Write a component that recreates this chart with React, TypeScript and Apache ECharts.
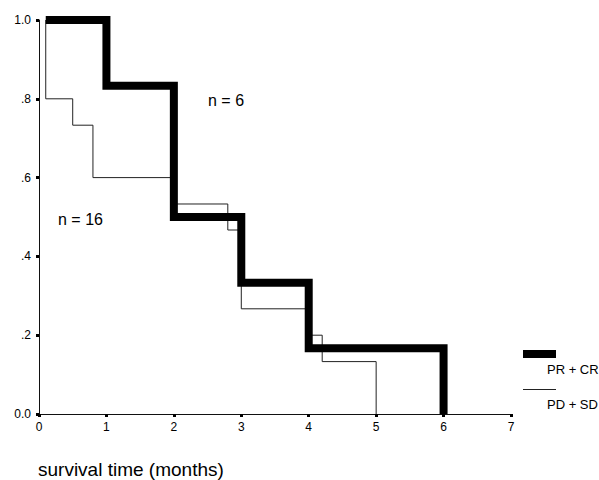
import React, { useEffect, useRef } from "react";
import * as echarts from "echarts";

// PR + CR group (n = 6): time of each step, survival after the step
const prcrTimes = [0.1, 1.0, 2.0, 3.0, 4.0, 6.0];
const prcrSurvival = [1.0, 0.833, 0.5, 0.333, 0.167, 0.0];

// PD + SD group (n = 16)
const pdsdTimes = [0.1, 0.1, 0.5, 0.8, 2.0, 2.8, 3.0, 4.0, 4.2, 5.0];
const pdsdSurvival = [1.0, 0.8, 0.733, 0.6, 0.533, 0.467, 0.267, 0.2, 0.133, 0.0];

const xTicks = [0, 1, 2, 3, 4, 5, 6, 7];
const yTickLabels: Record<string, string> = {
  "0": "0.0",
  "0.2": ".2",
  "0.4": ".4",
  "0.6": ".6",
  "0.8": ".8",
  "1": "1.0",
};

const seriesNames = ["PR + CR", "PD + SD"];
const groupLabels = ["n = 6", "n = 16"];
const xTitle = "survival time (months)";

const FONT = "'Liberation Sans', Arial, sans-serif";

export default function App() {
  const ref = useRef<HTMLDivElement>(null);

  useEffect(() => {
    if (!ref.current) return;
    const chart = echarts.init(ref.current, undefined, { renderer: "svg" });

    const prcr = prcrTimes.map((t, i) => [t, prcrSurvival[i]]);
    const pdsd = pdsdTimes.map((t, i) => [t, pdsdSurvival[i]]);

    chart.setOption({
      animation: false,
      backgroundColor: "#ffffff",
      grid: { left: 39, right: 88, top: 20, bottom: 66, containLabel: false },
      xAxis: {
        type: "value",
        min: xTicks[0],
        max: xTicks[xTicks.length - 1],
        interval: 1,
        splitLine: { show: false },
        axisLine: { show: true, lineStyle: { color: "#111", width: 1 } },
        axisTick: { show: true, length: 3, lineStyle: { color: "#000", width: 3 } },
        axisLabel: { color: "#000", fontSize: 12, fontFamily: FONT, margin: 7 },
      },
      yAxis: {
        type: "value",
        min: 0,
        max: 1,
        interval: 0.2,
        splitLine: { show: false },
        axisLine: { show: true, lineStyle: { color: "#111", width: 1 } },
        axisTick: { show: true, length: 3, lineStyle: { color: "#000", width: 3 } },
        axisLabel: {
          color: "#000",
          fontSize: 12,
          fontFamily: FONT,
          margin: 8,
          formatter: (v: number) => yTickLabels[String(Math.round(v * 10) / 10)] ?? String(v),
        },
      },
      series: [
        {
          name: seriesNames[0],
          type: "line",
          step: "end",
          data: prcr,
          showSymbol: false,
          symbol: "none",
          lineStyle: { color: "#000", width: 8, join: "miter", cap: "butt" },
          z: 3,
        },
        {
          name: seriesNames[1],
          type: "line",
          step: "end",
          data: pdsd,
          showSymbol: false,
          symbol: "none",
          lineStyle: { color: "#222", width: 1, join: "miter", cap: "butt" },
          z: 2,
        },
      ],
      graphic: [
        {
          type: "text",
          left: 208,
          top: 92,
          style: { text: groupLabels[0], fill: "#000", font: `16px ${FONT}` },
        },
        {
          type: "text",
          left: 58,
          top: 211,
          style: { text: groupLabels[1], fill: "#000", font: `16px ${FONT}` },
        },
        {
          type: "rect",
          shape: { x: 523, y: 350, width: 33, height: 8 },
          style: { fill: "#000" },
        },
        {
          type: "text",
          x: 547,
          y: 369,
          style: {
            text: seriesNames[0],
            fill: "#000",
            font: `13px ${FONT}`,
            textVerticalAlign: "middle",
          },
        },
        {
          type: "line",
          shape: { x1: 523, y1: 389.5, x2: 556, y2: 389.5 },
          style: { stroke: "#222", lineWidth: 1 },
        },
        {
          type: "text",
          x: 547,
          y: 404,
          style: {
            text: seriesNames[1],
            fill: "#000",
            font: `13px ${FONT}`,
            textVerticalAlign: "middle",
          },
        },
        {
          type: "text",
          x: 38,
          y: 469,
          style: {
            text: xTitle,
            fill: "#000",
            font: `19px ${FONT}`,
            textVerticalAlign: "middle",
          },
        },
      ],
    });

    return () => chart.dispose();
  }, []);

  return <div ref={ref} style={{ width: 599, height: 480, position: "absolute", left: 0, top: 0 }} />;
}
